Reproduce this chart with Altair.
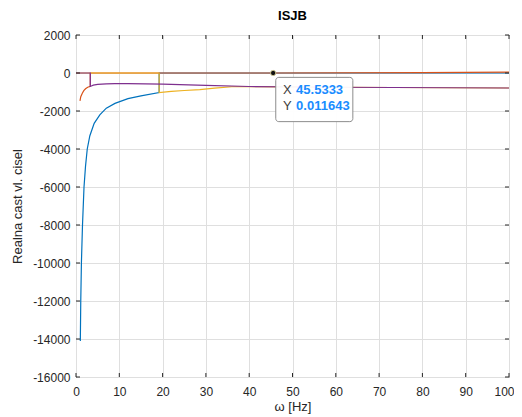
import altair as alt
import pandas as pd

# ---- data ----
blue_x = [1.0, 1.1, 1.25, 1.5, 1.85, 2.2, 2.6, 3.2, 4.2, 5.5, 7, 9, 12, 15, 19.2, 19.2, 100]
blue_y = [-14100, -12000, -10000, -8000, -6000, -4900, -4000, -3300, -2650, -2200, -1850, -1600, -1350, -1200, -1030, 0, 0]

orange_x = [0.92, 1.1, 1.46, 1.8, 2.2, 2.7, 3.3, 3.3, 45.5333, 80, 100]
orange_y = [-1470, -1250, -1064, -930, -830, -750, -707, 0, 0.011643, 15, 50]

yellow_x = [0, 19.2, 19.2, 22, 25, 28.6, 32, 36, 40, 60, 100]
yellow_y = [0, 0, -1030, -970, -920, -870, -800, -725, -710, -750, -790]

purple_x = [0, 3.3, 3.3, 4, 5, 7, 9, 12, 20, 30, 40, 60, 100]
purple_y = [0, 0, -707, -640, -600, -570, -560, -558, -590, -650, -710, -750, -790]

x_ticks = list(range(0, 101, 10))
y_ticks = list(range(-16000, 2001, 2000))

tip_x = 45.5333
tip_y = 0.011643
tip_labels = ["X", "Y"]
tip_values = ["45.5333", "0.011643"]

colors = {"blue": "#0072BD", "orange": "#D95319", "yellow": "#EDB120", "purple": "#7E2F8E"}
series = [("blue", blue_x, blue_y), ("orange", orange_x, orange_y),
          ("yellow", yellow_x, yellow_y), ("purple", purple_x, purple_y)]

FONT = "Liberation Sans"
xs = alt.Scale(domain=[0, 100], nice=False, zero=False)
ys = alt.Scale(domain=[-16000, 2000], nice=False, zero=False)

axis_x = alt.Axis(values=x_ticks, title="ω [Hz]", grid=True, labelExpr="'' + datum.value",
                  tickSize=0, labelPadding=9, titlePadding=3, labelOverlap=False, labelFlush=False,
                  labelAlign={"condition": {"test": "datum.value == 100", "value": "right"}, "value": "center"},
                  labelOffset={"condition": {"test": "datum.value == 100", "value": 5}, "value": 0})
axis_y = alt.Axis(values=y_ticks, title="Realna cast vl. cisel", grid=True, labelExpr="'' + datum.value",
                  tickSize=0, labelPadding=6, titlePadding=8, labelOverlap=False, labelFlush=False)


def X(field):
    return alt.X(field, scale=xs, axis=axis_x)


def Y(field):
    return alt.Y(field, scale=ys, axis=axis_y)


layers = []
for name, xv, yv in series:
    df = pd.DataFrame({"x": xv, "y": yv, "i": range(len(xv))})
    layers.append(alt.Chart(df).mark_line(color=colors[name], strokeWidth=1.2, clip=True).encode(
        x=X("x:Q"), y=Y("y:Q"), order="i:Q"))

# inward ticks (MATLAB style box ticks)
tick_len_y = 18000 * 4 / 342
tick_len_x = 100 * 4 / 433
tick_color = "#262626"
xt_bot = pd.DataFrame({"x": x_ticks, "y": -16000, "y2": -16000 + tick_len_y})
xt_top = pd.DataFrame({"x": x_ticks, "y": 2000, "y2": 2000 - tick_len_y})
yt_l = pd.DataFrame({"y": y_ticks, "x": 0, "x2": tick_len_x})
yt_r = pd.DataFrame({"y": y_ticks, "x": 100, "x2": 100 - tick_len_x})
for d in (xt_bot, xt_top):
    layers.append(alt.Chart(d).mark_rule(color=tick_color).encode(x=X("x:Q"), y=Y("y:Q"), y2="y2:Q"))
for d in (yt_l, yt_r):
    layers.append(alt.Chart(d).mark_rule(color=tick_color).encode(y=Y("y:Q"), x=X("x:Q"), x2="x2:Q"))

# datatip box
box = pd.DataFrame({"x": [tip_x + 0.6], "x2": [tip_x + 18.4], "y": [tip_y - 230], "y2": [tip_y - 2560]})
layers.append(alt.Chart(box).mark_rect(fill="white", fillOpacity=0.95, stroke="#8c8c8c",
                                       strokeWidth=1, cornerRadius=3).encode(
    x=X("x:Q"), x2="x2:Q", y=Y("y:Q"), y2="y2:Q"))
tip_df = pd.DataFrame({"lab": tip_labels, "val": tip_values,
                       "lx": [tip_x + 2.3, tip_x + 2.3], "vx": [tip_x + 5.3, tip_x + 5.3],
                       "ty": [tip_y - 870, tip_y - 1720]})
layers.append(alt.Chart(tip_df).mark_text(align="left", baseline="middle", font=FONT, fontSize=13,
                                          color="#404040").encode(
    x=X("lx:Q"), y=Y("ty:Q"), text="lab:N"))
layers.append(alt.Chart(tip_df).mark_text(align="left", baseline="middle", font=FONT, fontSize=13,
                                          fontWeight="bold", color="#1A8CFF").encode(
    x=X("vx:Q"), y=Y("ty:Q"), text="val:N"))
dot = pd.DataFrame({"x": [tip_x], "y": [tip_y]})
layers.append(alt.Chart(dot).mark_point(filled=True, color="#111111", size=28, opacity=1,
                                        stroke="#e8e0a0", strokeWidth=0.8).encode(
    x=X("x:Q"), y=Y("y:Q")))

chart = alt.layer(*layers).properties(
    width=433, height=342,
    title=alt.Title("ISJB", font=FONT, fontSize=13, fontWeight="bold", color="#000000",
                    anchor="middle", offset=6),
    padding={"left": 68, "top": 27, "right": 5, "bottom": 40},
    autosize=alt.AutoSizeParams(type="none"),
).configure_view(stroke="#262626", strokeWidth=1
).configure_axis(
    labelFont=FONT, titleFont=FONT, labelFontSize=12, titleFontSize=13,
    titleFontWeight="normal",
    labelColor="#262626", titleColor="#262626", domain=False,
    gridColor="#dfdfdf", gridWidth=1
)

chart.save("out.html", embed_options={"renderer": "svg", "actions": False})
